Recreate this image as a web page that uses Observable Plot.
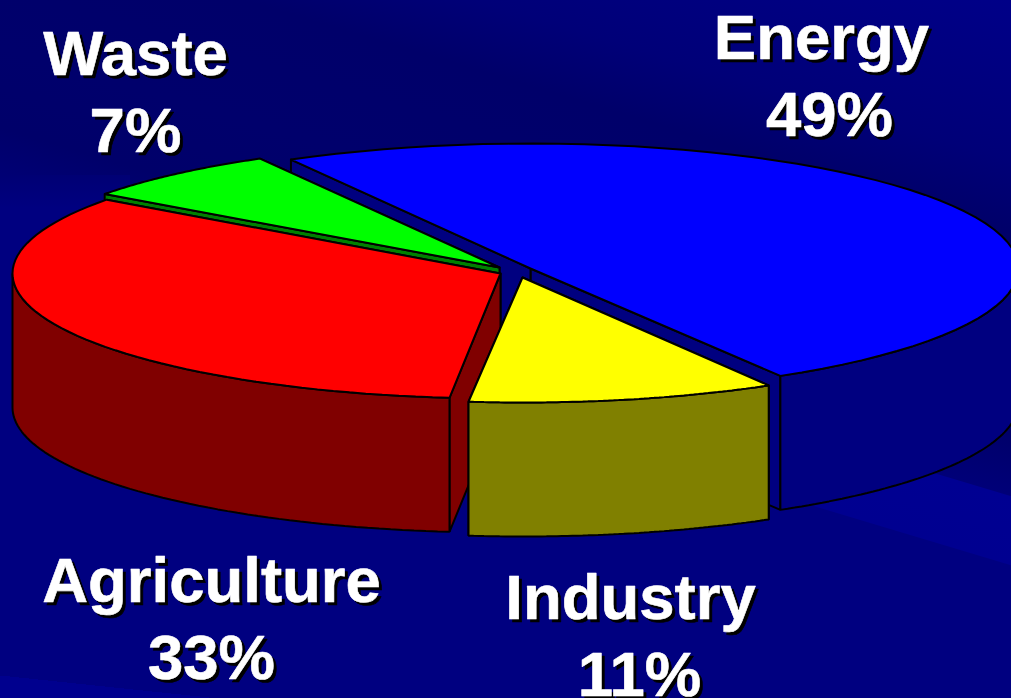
<!DOCTYPE html>
<html>
<head>
<meta charset="utf-8">
<script src="https://cdn.jsdelivr.net/npm/d3@7"></script>
<script src="https://cdn.jsdelivr.net/npm/@observablehq/plot@0.6"></script>
<style>
html,body{margin:0;padding:0;background:#000080;width:1011px;height:698px;overflow:hidden}
#chart svg{display:block}
</style>
</head>
<body>
<div id="chart"></div>
<script>
// Chart values
const categories = ["Energy", "Industry", "Agriculture", "Waste"];
const shares = [49, 11, 33, 7];
const topColors = ["#0000ff", "#ffff00", "#ff0000", "#00ff00"];
const wallColors = ["#000080", "#808000", "#800000", "#008000"];

// Drawing set-up for the tilted, exploded pie
const startAngle = 240;
const startNudge = [0.6, 3.3, 0, 1.2];   // perspective distortion of slice boundaries, degrees
const endNudge = [2.8, 0.35, 1.4, 0.6];
const centersX = [530, 522, 500, 499];
const centersY = [268, 277, 273, 267];
const radiusX = 488, radiusY = 125, depth = 134;
const drawOrder = [0, 3, 2, 1];

const total = d3.sum(shares);
const cumulative = [0, ...d3.cumsum(shares)];

function pt(i, deg, drop = 0) {
  const t = deg * Math.PI / 180;
  return {x: centersX[i] + radiusX * Math.cos(t), y: centersY[i] + radiusY * Math.sin(t) + drop};
}
function arc(i, a, b, drop = 0) {
  return d3.range(0, 61).map(k => pt(i, a + (b - a) * k / 60, drop));
}
const poly = (rows, fill) => Plot.line([...rows, rows[0]], {x: "x", y: "y", fill, stroke: "#000", strokeWidth: 2, strokeLinejoin: "miter", curve: "linear"});

const sliceMarks = drawOrder.flatMap(i => {
  const a = startAngle + cumulative[i] / total * 360 + startNudge[i];
  const b = startAngle + cumulative[i + 1] / total * 360 + endNudge[i];
  const apex = {x: centersX[i], y: centersY[i]};
  const apexLow = {x: apex.x, y: apex.y + depth};
  const out = [];
  // cut faces: the far one first, so that its hidden edges stay covered
  out.push(poly([apex, pt(i, b), pt(i, b, depth), apexLow], wallColors[i]));
  out.push(poly([pt(i, a), apex, apexLow, pt(i, a, depth)], wallColors[i]));
  // outer rim: only the front half of the ellipse
  for (let n = -1; n < 3; n++) {
    const lo = Math.max(a, n * 360), hi = Math.min(b, n * 360 + 180);
    if (hi > lo) out.push(poly([...arc(i, lo, hi), ...arc(i, hi, lo, depth)], wallColors[i]));
  }
  // top
  out.push(poly([apex, ...arc(i, a, b)], topColors[i]));
  return out;
});

// Labels
const labelRows = [
  {name: "Energy", x1: 821, y1: 58, x2: 829, y2: 135},
  {name: "Industry", x1: 630, y1: 618, x2: 639, y2: 695},
  {name: "Agriculture", x1: 211, y1: 601, x2: 211, y2: 678},
  {name: "Waste", x1: 135, y1: 74, x2: 135, y2: 151}
];
const labelLines = labelRows.flatMap(d => [
  {t: d.name, x: d.x1, y: d.y1},
  {t: shares[categories.indexOf(d.name)] + "%", x: d.x2, y: d.y2}
]);
const textOpts = {x: "x", y: "y", text: "t", fontSize: 63.5, fontWeight: 700, fontFamily: "Liberation Sans, Arial, sans-serif", lineAnchor: "bottom", textAnchor: "middle", strokeWidth: 0.6};

const plot = Plot.plot({
  width: 1011, height: 698,
  marginTop: 0, marginRight: 0, marginBottom: 0, marginLeft: 0,
  x: {domain: [0, 1011], range: [0, 1011], axis: null},
  y: {domain: [0, 698], range: [0, 698], axis: null},
  style: {
    background:
      "linear-gradient(#000074, #000080 30%) 0 175px/130px 110px no-repeat," +
      "linear-gradient(186deg, transparent 97.2%, #00008e 97.2%) 0 0/100% 100% no-repeat," +
      "linear-gradient(196.7deg, #000088 0%, #000078 16%, #00006a 23%, #00006c 35%, #00006a 43%, #000078 49.5%, #000092 49.6%, #000090 56.4%, #000080 56.5%, #000080 100%)"
  },
  marks: [
    ...sliceMarks,
    Plot.text(labelLines, {...textOpts, fill: "#000", stroke: "#000", dx: 3, dy: 3}),
    Plot.text(labelLines, {...textOpts, fill: "#fff", stroke: "#fff"})
  ]
});
document.getElementById("chart").append(plot);
</script>
</body>
</html>
